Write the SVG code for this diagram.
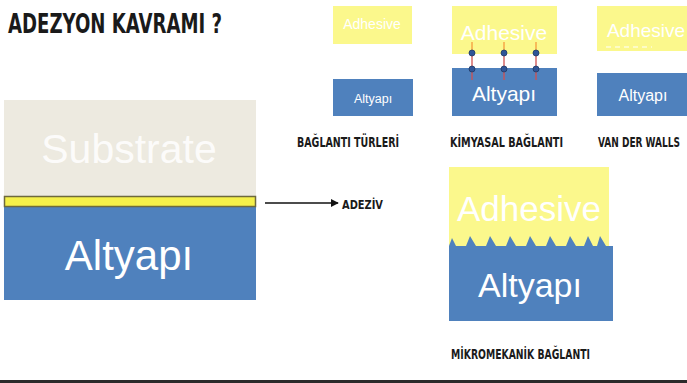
<svg xmlns="http://www.w3.org/2000/svg" width="687" height="383" viewBox="0 0 687 383">
<style>
.lbl{font-family:"DejaVu Sans Condensed","DejaVu Sans",sans-serif;font-weight:bold;fill:#1a1a1a}
.wt{font-family:"Liberation Sans",Arial,sans-serif;fill:#ffffff;text-anchor:middle}
.blue{fill:#4F81BD}
.yel{fill:#FBF88C}
</style>
<defs>
<marker id="ah" viewBox="0 0 10 10" refX="9" refY="5" markerWidth="8" markerHeight="8" markerUnits="userSpaceOnUse" orient="auto">
<path d="M0,0 L10,5 L0,10 z" fill="#111"/>
</marker>
</defs>
<rect width="687" height="383" fill="#ffffff"/>
<text class="lbl" x="8" y="33" font-size="26" textLength="214" lengthAdjust="spacingAndGlyphs">ADEZYON KAVRAMI ?</text>

<g id="main">
<rect x="4" y="100" width="252" height="96" fill="#EDEAE0"/>
<text class="wt" x="129" y="163" font-size="41" fill-opacity="0.85">Substrate</text>
<rect x="4" y="207" width="252" height="93" class="blue"/>
<text class="wt" x="129" y="270" font-size="42">Altyapı</text>
<rect x="4.5" y="196.5" width="251" height="10" fill="#F5F04A" stroke="#6E6A3C" stroke-width="1.5"/>
</g>

<g id="connectors">
<line x1="265" y1="203" x2="338" y2="203" stroke="#111" stroke-width="1.5" marker-end="url(#ah)"/>
</g>
<text class="lbl" x="342" y="209" font-size="13" textLength="41" lengthAdjust="spacingAndGlyphs">ADEZİV</text>

<g id="types">
<rect x="333" y="6" width="79" height="38" class="yel"/>
<text class="wt" x="372" y="29" font-size="14">Adhesive</text>
<rect x="333" y="79" width="80" height="37" class="blue"/>
<text class="wt" x="373" y="103" font-size="12.5">Altyapı</text>
<text class="lbl" x="297" y="147" font-size="14" textLength="102" lengthAdjust="spacingAndGlyphs">BAĞLANTI TÜRLERİ</text>
</g>

<g id="kimyasal">
<rect x="452" y="6" width="105" height="48" class="yel"/>
<text class="wt" x="504" y="40" font-size="21">Adhesive</text>
<rect x="452" y="68" width="105" height="48" class="blue"/>
<text class="wt" x="504" y="101" font-size="21">Altyapı</text>
<g stroke-width="1.3">
<line x1="472" y1="42" x2="472" y2="50" stroke="#F59A3C"/>
<line x1="504" y1="42" x2="504" y2="50" stroke="#F59A3C"/>
<line x1="536" y1="42" x2="536" y2="50" stroke="#F59A3C"/>
<line x1="472" y1="50" x2="472" y2="80" stroke="#D0504F"/>
<line x1="504" y1="50" x2="504" y2="80" stroke="#D0504F"/>
<line x1="536" y1="50" x2="536" y2="80" stroke="#D0504F"/>
</g>
<g fill="#2F5597" stroke="#1F3864" stroke-width="0.8">
<circle cx="472" cy="53" r="3"/><circle cx="504" cy="53" r="3"/><circle cx="536" cy="53" r="3"/>
<circle cx="472" cy="69" r="3"/><circle cx="504" cy="69" r="3"/><circle cx="536" cy="69" r="3"/>
</g>
<text class="lbl" x="450" y="147" font-size="14" textLength="113" lengthAdjust="spacingAndGlyphs">KİMYASAL BAĞLANTI</text>
</g>

<g id="vanderwalls">
<rect x="597" y="6" width="92" height="45" class="yel"/>
<text class="wt" x="646" y="37" font-size="19">Adhesive</text>
<line x1="606" y1="47" x2="652" y2="47" stroke="#ffffff" stroke-width="1.2" stroke-dasharray="5 4"/>
<rect x="597" y="73" width="92" height="43" class="blue"/>
<text class="wt" x="643" y="101" font-size="16">Altyapı</text>
<text class="lbl" transform="translate(598,147) scale(1,1.4)" x="0" y="0" font-size="10" textLength="82" lengthAdjust="spacingAndGlyphs">VAN DER WALLS</text>
</g>

<g id="mikromekanik">
<rect x="449" y="167" width="160" height="80" class="yel"/>
<text class="wt" x="529" y="221" font-size="35">Adhesive</text>
<rect x="449" y="246" width="164" height="75" class="blue"/>
<text class="wt" x="530" y="297" font-size="34">Altyapı</text>
<path class="blue" d="M449,246 L452,238 L456,246 Z M466,246 L470,236 L476,246 Z M486,246 L490,236 L496,246 Z M506,246 L510,236 L516,246 Z M526,246 L530,236 L536,246 Z M546,246 L550,236 L556,246 Z M566,246 L570,236 L576,246 Z M584,246 L588,236 L593,246 Z M597,246 L600,236 L606,246 Z"/>
<text class="lbl" x="451" y="359" font-size="14" textLength="139" lengthAdjust="spacingAndGlyphs">MİKROMEKANİK BAĞLANTI</text>
</g>

<rect x="0" y="380" width="687" height="3" fill="#2b2b2b"/>
</svg>
